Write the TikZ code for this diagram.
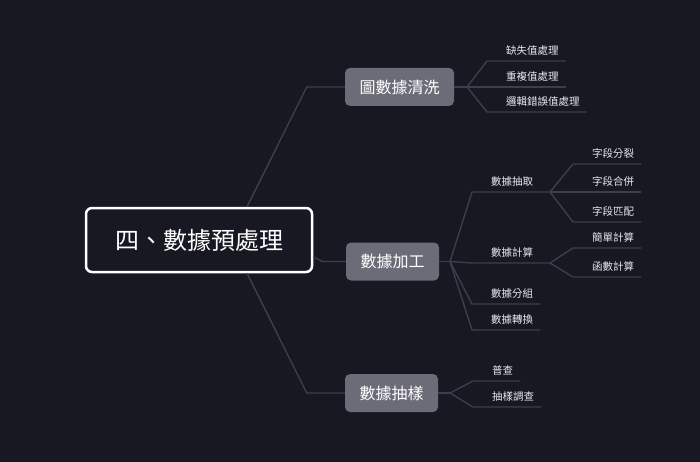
\documentclass[tikz,border=0pt]{standalone}
\usepackage{fontspec}
\setmainfont{Noto Sans CJK TC}
\usepackage{tikz}
\usetikzlibrary{positioning, calc}
\definecolor{mybg}{RGB}{23,24,34}
\definecolor{mybox}{RGB}{107,108,120}
\definecolor{mylink}{RGB}{60,62,74}
\definecolor{mytext}{RGB}{232,232,236}
\tikzset{
  rootnode/.style={rectangle, draw=white, fill=mybg, text=white,
    minimum width=226pt, minimum height=64pt,
    font=\fontsize{24}{28}\selectfont, rounded corners=6pt, line width=2.5pt},
  branch/.style={rectangle, fill=mybox, text=white, inner xsep=14.5pt,
    minimum height=38pt, font=\fontsize{16}{19}\selectfont, rounded corners=5pt},
  leaf/.style={anchor=south west, inner xsep=0pt, inner ysep=5.5pt,
    text=mytext, font=\fontsize{10.5}{12}\selectfont},
  link/.style={color=mylink, line width=1.4pt}
}

\begin{document}
\begin{tikzpicture}[x=1pt, y=-1pt]
  \fill[mybg] (0,0) rectangle (700,462);

  % main nodes
  \node[rootnode] (root) at (199,240) {四、數據預處理};
  \node[branch] (clean) at (399.5,87) {圖數據清洗};
  \node[branch] (proc) at (392.5,261.5) {數據加工};
  \node[branch] (samp) at (391.5,393) {數據抽樣};

  \coordinate (hclean) at (467,87);
  \coordinate (hproc) at (450,261.5);
  \coordinate (hsamp) at (450,393);
  \coordinate (hext) at (550,192);
  \coordinate (hcalc) at (550,263);

  \draw[link] ([xshift=48pt]root.north) -- ([xshift=-38pt]clean.west) -- (clean.west);
  \draw[link] ([yshift=-17pt]root.east) -- ([xshift=-23pt]proc.west) -- (proc.west);
  \draw[link] ([xshift=48pt]root.south) -- ([xshift=-38pt]samp.west) -- (samp.west);

  % cleaning
  \node[leaf] (miss) at (506,61) {缺失值處理};
  \node[leaf] (dup) at (506,87) {重複值處理};
  \node[leaf] (logic) at (506,112) {邏輯錯誤值處理};
  \draw[link] (clean.east) -- (hclean);
  \foreach \n in {miss, dup, logic}
    \draw[link] (hclean) -- ([xshift=-19pt]\n.south west) -- ([xshift=7pt]\n.south east);

  % processing
  \node[leaf] (ext) at (491,192) {數據抽取};
  \node[leaf] (calc) at (491,263) {數據計算};
  \node[leaf] (grp) at (491,304) {數據分組};
  \node[leaf] (conv) at (491,330) {數據轉換};
  \draw[link] (proc.east) -- (hproc);
  \draw[link] (hproc) -- ([xshift=-19pt]ext.south west) -- (hext);
  \draw[link] (hproc) -- ([xshift=-19pt]calc.south west) -- (hcalc);
  \foreach \n in {grp, conv}
    \draw[link] (hproc) -- ([xshift=-19pt]\n.south west) -- ([xshift=7pt]\n.south east);

  \node[leaf] (split) at (592,164) {字段分裂};
  \node[leaf] (merge) at (592,192) {字段合併};
  \node[leaf] (match) at (592,222) {字段匹配};
  \foreach \n in {split, merge, match}
    \draw[link] (hext) -- ([xshift=-19pt]\n.south west) -- ([xshift=7pt]\n.south east);

  \node[leaf] (simple) at (592,248) {簡單計算};
  \node[leaf] (func) at (592,277) {函數計算};
  \foreach \n in {simple, func}
    \draw[link] (hcalc) -- ([xshift=-19pt]\n.south west) -- ([xshift=7pt]\n.south east);

  % sampling
  \node[leaf] (census) at (492,381) {普查};
  \node[leaf] (survey) at (492,407) {抽樣調查};
  \draw[link] (samp.east) -- (hsamp);
  \foreach \n in {census, survey}
    \draw[link] (hsamp) -- ([xshift=-19pt]\n.south west) -- ([xshift=7pt]\n.south east);
\end{tikzpicture}
\end{document}
